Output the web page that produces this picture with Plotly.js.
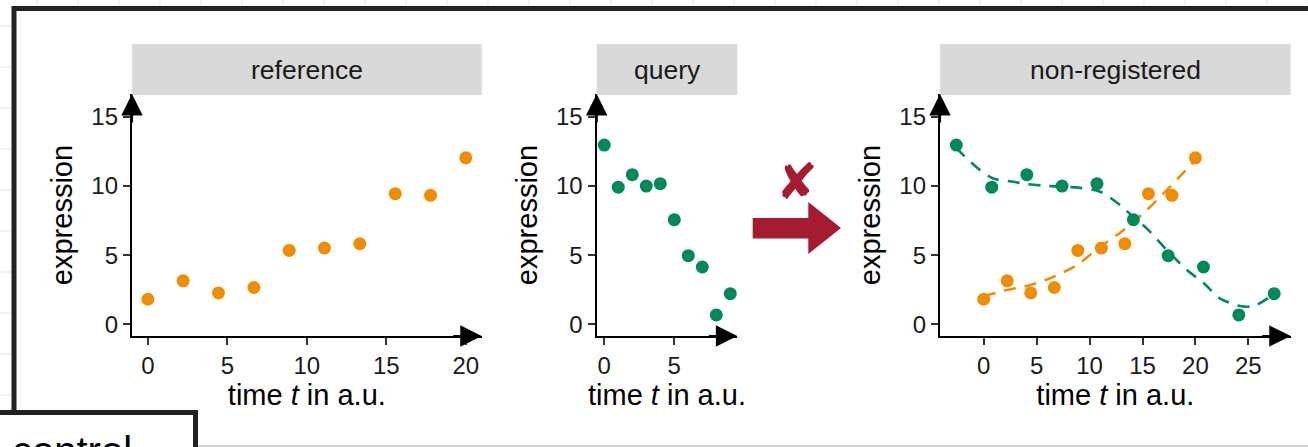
<!DOCTYPE html>
<html><head><meta charset="utf-8">
<script src="https://cdn.plot.ly/plotly-3.0.1.min.js"></script>
<style>html,body{margin:0;padding:0;background:#fff;overflow:hidden}#chart{width:1308px;height:447px;}</style>
</head><body><div id="chart"></div>
<script>
// ---- data ----
const panelNames = ['reference', 'query', 'non-registered'];
const refTime = [0, 2.22, 4.44, 6.67, 8.89, 11.11, 13.33, 15.56, 17.78, 20];
const refExpr = [1.81, 3.14, 2.27, 2.66, 5.34, 5.51, 5.82, 9.44, 9.32, 12.03];
const queryTime = [0, 1, 2, 3, 4, 5, 6, 7, 8, 9];
const queryExpr = [12.95, 9.91, 10.81, 9.99, 10.16, 7.56, 4.96, 4.14, 0.68, 2.21];
const queryTimeShifted = [-2.59, 0.76, 4.07, 7.4, 10.7, 14.14, 17.42, 20.76, 24.1, 27.44];
const refFitTime = [0, 2.2, 4.4, 6.6, 8.8, 11.0, 13.2, 15.4, 17.6, 20.0];
const refFitExpr = [2.04, 2.48, 2.84, 3.44, 4.28, 5.6, 6.8, 8.25, 9.94, 11.86];
const queryFitTime = [-2.59, -1.92, -0.35, 0.91, 2.8, 4.07, 5.96, 7.4, 9.1, 11.0, 12.9, 14.1, 15.4, 17.3, 19.2, 20.8, 22.3, 24.2, 25.5, 27.44];
const queryFitExpr = [12.75, 12.22, 11.14, 10.54, 10.3, 10.13, 10.0, 9.94, 9.86, 9.58, 8.61, 7.77, 6.93, 5.36, 3.92, 2.96, 1.88, 1.32, 1.32, 2.19];
const yTicks = [0, 5, 10, 15];
const xTicks1 = [0, 5, 10, 15, 20];
const xTicks2 = [0, 5];
const xTicks3 = [0, 5, 10, 15, 20, 25];

// ---- styling ----
const W = 1308, H = 447;
const px = x => x / W, py = y => 1 - y / H;
const ORANGE = '#F08C00', GREEN = '#00895A', RED = '#A51C30';
const FONT = 'Liberation Sans, Arial, Helvetica, sans-serif';

const yDom = [py(336), py(94)];
const baseAxis = {
  showline: true, linecolor: '#000', linewidth: 2.2,
  ticks: 'outside', ticklen: 7, tickwidth: 2, tickcolor: '#333',
  showgrid: false, zeroline: false, fixedrange: true,
  tickfont: {family: FONT, size: 24, color: '#1a1a1a'}
};
function xAx(dom, range, ticks, anchor) {
  return Object.assign({}, baseAxis, {
    domain: dom, range: range, anchor: anchor, tickmode: 'array', tickvals: ticks,
    title: {text: 'time <i>t</i> in a.u.', font: {family: FONT, size: 29, color: '#000'}, standoff: 6}
  });
}
function yAx(anchor) {
  return Object.assign({}, baseAxis, {
    domain: yDom, range: [-0.845, 16.64], anchor: anchor, tickmode: 'array', tickvals: yTicks,
    title: {text: 'expression', font: {family: FONT, size: 29, color: '#000'}, standoff: 10}
  });
}

const traces = [
  {x: refTime, y: refExpr, xaxis: 'x', yaxis: 'y', mode: 'markers', marker: {size: 13, color: ORANGE}, hoverinfo: 'skip'},
  {x: queryTime, y: queryExpr, xaxis: 'x2', yaxis: 'y2', mode: 'markers', marker: {size: 13, color: GREEN}, hoverinfo: 'skip'},
  {x: refFitTime, y: refFitExpr, xaxis: 'x3', yaxis: 'y3', mode: 'lines', line: {color: ORANGE, width: 2.6, dash: '12px,9px', shape: 'spline', smoothing: 0.8}, hoverinfo: 'skip'},
  {x: queryFitTime, y: queryFitExpr, xaxis: 'x3', yaxis: 'y3', mode: 'lines', line: {color: GREEN, width: 2.6, dash: '12px,9px', shape: 'spline', smoothing: 0.8}, hoverinfo: 'skip'},
  {x: refTime, y: refExpr, xaxis: 'x3', yaxis: 'y3', mode: 'markers', marker: {size: 13, color: ORANGE}, hoverinfo: 'skip'},
  {x: queryTimeShifted, y: queryExpr, xaxis: 'x3', yaxis: 'y3', mode: 'markers', marker: {size: 13, color: GREEN}, hoverinfo: 'skip'}
];

const shapes = [];
const annotations = [];

// background grid outside the frame
const GRIDC = '#dbe7e1';
for (let x = 37; x <= W; x += 41) shapes.push({type: 'line', xref: 'paper', yref: 'paper', x0: px(x), x1: px(x), y0: py(0), y1: py(6), line: {color: GRIDC, width: 1}});
for (let y = 26; y < 408; y += 41) shapes.push({type: 'line', xref: 'paper', yref: 'paper', x0: px(0), x1: px(12), y0: py(y), y1: py(y), line: {color: GRIDC, width: 1}});

// frame and boxes
shapes.push({type: 'line', xref: 'paper', yref: 'paper', x0: px(12), x1: px(W), y0: py(8.5), y1: py(8.5), line: {color: '#222', width: 5}});
shapes.push({type: 'line', xref: 'paper', yref: 'paper', x0: px(14), x1: px(14), y0: py(6), y1: py(412), line: {color: '#222', width: 5}});
shapes.push({type: 'line', xref: 'paper', yref: 'paper', x0: px(0), x1: px(198), y0: py(412.5), y1: py(412.5), line: {color: '#222', width: 5}});
shapes.push({type: 'line', xref: 'paper', yref: 'paper', x0: px(195.5), x1: px(195.5), y0: py(410), y1: py(H + 2), line: {color: '#222', width: 5}});
shapes.push({type: 'line', xref: 'paper', yref: 'paper', x0: px(198), x1: px(W), y0: py(446), y1: py(446), line: {color: '#c4c4c4', width: 1.5}});

// strips + labels + axis arrowheads
const axNames = [['x', 'y'], ['x2', 'y2'], ['x3', 'y3']];
axNames.forEach(([xa, ya], i) => {
  shapes.push({type: 'rect', xref: xa + ' domain', yref: 'paper', x0: 0, x1: 1, y0: py(95), y1: py(44), fillcolor: '#d9d9d9', line: {width: 0}});
  annotations.push({xref: xa + ' domain', yref: 'paper', x: 0.5, y: py(69.5), text: panelNames[i], showarrow: false,
    font: {family: FONT, size: 26.5, color: '#1a1a1a'}, xanchor: 'center', yanchor: 'middle'});
  annotations.push({xref: xa + ' domain', yref: ya + ' domain', x: 1, y: 0, ax: -30, ay: 0, text: '', showarrow: true,
    arrowhead: 2, arrowsize: 1.95, arrowwidth: 2.2, arrowcolor: '#000', standoff: 0});
  annotations.push({xref: xa + ' domain', yref: ya + ' domain', x: 0, y: 1, ax: 0, ay: 30, text: '', showarrow: true,
    arrowhead: 2, arrowsize: 1.95, arrowwidth: 2.2, arrowcolor: '#000', standoff: 0});
});

// red arrow and cross
const arrowPts = [[752.7, 218], [808.3, 218], [808.3, 202], [841, 228], [808.3, 254], [808.3, 238.5], [752.7, 238.5]];
shapes.push({type: 'path', xref: 'paper', yref: 'paper',
  path: 'M' + arrowPts.map(p => px(p[0]).toFixed(5) + ',' + py(p[1]).toFixed(5)).join('L') + 'Z',
  fillcolor: RED, line: {width: 0}});
annotations.push({xref: 'paper', yref: 'paper', x: px(797), y: py(182), text: '✘', showarrow: false,
  font: {family: 'DejaVu Sans', size: 50, color: RED}, xanchor: 'center', yanchor: 'middle'});

// partially visible label of the box below
annotations.push({xref: 'paper', yref: 'paper', x: px(10), y: py(427), text: 'control', showarrow: false,
  font: {family: FONT, size: 40, color: '#000'}, xanchor: 'left', yanchor: 'top'});

const layout = {
  width: W, height: H, margin: {l: 0, r: 0, t: 0, b: 0},
  paper_bgcolor: '#fff', plot_bgcolor: 'rgba(0,0,0,0)', showlegend: false,
  xaxis: xAx([px(132), px(481.7)], [-1, 21], xTicks1, 'y'),
  yaxis: yAx('x'),
  xaxis2: xAx([px(596.7), px(737.3)], [-0.54, 9.5], xTicks2, 'y2'),
  yaxis2: yAx('x2'),
  xaxis3: xAx([px(940), px(1290.7)], [-4.13, 29.0], xTicks3, 'y3'),
  yaxis3: yAx('x3'),
  shapes: shapes, annotations: annotations
};
Plotly.newPlot('chart', traces, layout, {staticPlot: true, displayModeBar: false});
</script></body></html>
